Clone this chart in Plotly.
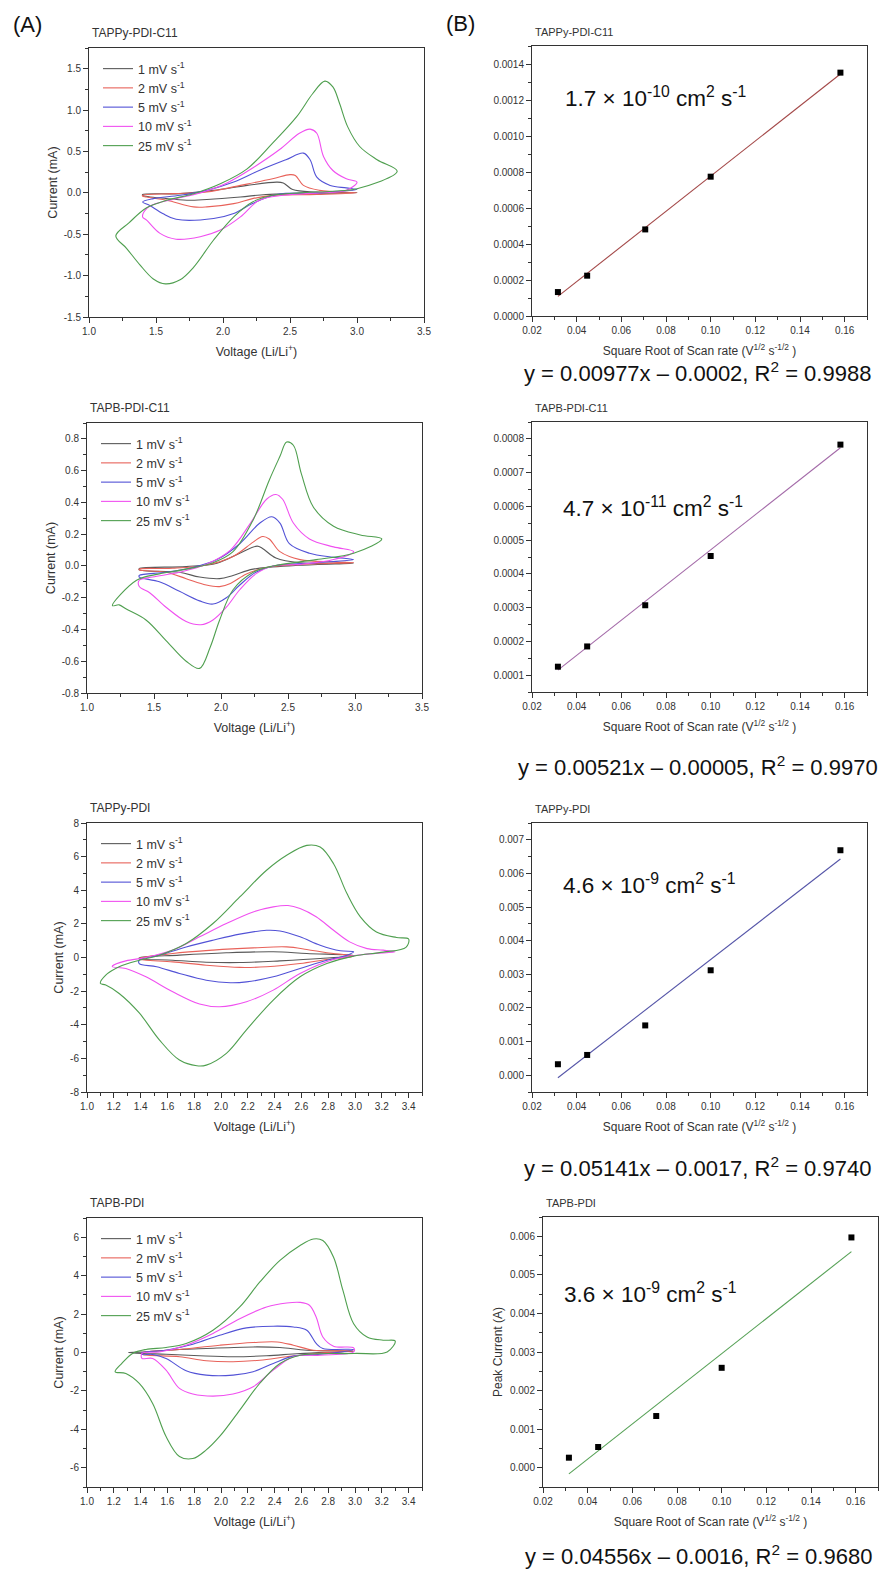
import plotly.graph_objects as go

# ---------------- data ----------------
rate_names = ["1 mV s<sup>-1</sup>", "2 mV s<sup>-1</sup>", "5 mV s<sup>-1</sup>",
              "10 mV s<sup>-1</sup>", "25 mV s<sup>-1</sup>"]
panel_titles = ["TAPPy-PDI-C11", "TAPB-PDI-C11", "TAPPy-PDI", "TAPB-PDI"]

# Panel 1: TAPPy-PDI-C11 CV (V, mA)
p1_v01 = [3.00, 2.57, 2.32, 2.13, 1.88, 1.73, 1.58, 1.40, 1.40, 1.68, 1.93, 2.18, 2.40, 2.45, 2.52, 2.70, 3.00]
p1_i01 = [0.00, -0.01, -0.02, -0.05, -0.08, -0.09, -0.07, -0.03, -0.02, -0.01, 0.03, 0.09, 0.13, 0.12, 0.04, 0.01, 0.00]
p1_v02 = [3.00, 2.70, 2.37, 2.22, 2.08, 1.88, 1.78, 1.58, 1.43, 1.40, 1.40, 1.63, 1.88, 2.13, 2.37, 2.50, 2.54, 2.60, 2.72, 3.00]
p1_i02 = [0.00, -0.02, -0.03, -0.07, -0.13, -0.17, -0.17, -0.09, -0.05, -0.04, -0.03, -0.01, 0.01, 0.09, 0.17, 0.22, 0.21, 0.09, 0.03, 0.00]
p1_v05 = [3.00, 2.70, 2.40, 2.22, 2.08, 1.93, 1.65, 1.55, 1.45, 1.40, 1.48, 1.68, 1.88, 2.08, 2.27, 2.47, 2.60, 2.65, 2.70, 2.80, 2.92, 3.00]
p1_i05 = [0.04, 0.00, -0.02, -0.13, -0.25, -0.31, -0.32, -0.25, -0.15, -0.11, -0.07, -0.03, 0.03, 0.13, 0.27, 0.40, 0.48, 0.40, 0.19, 0.09, 0.06, 0.04]
p1_v10 = [3.00, 2.92, 2.72, 2.45, 2.27, 2.13, 1.98, 1.83, 1.65, 1.53, 1.43, 1.40, 1.43, 1.50, 1.65, 1.83, 2.03, 2.23, 2.42, 2.57, 2.65, 2.70, 2.75, 2.82, 2.92, 3.00]
p1_i10 = [0.13, 0.03, 0.00, -0.03, -0.09, -0.29, -0.45, -0.53, -0.56, -0.49, -0.33, -0.29, -0.19, -0.13, -0.07, 0.00, 0.12, 0.31, 0.52, 0.72, 0.77, 0.72, 0.44, 0.27, 0.17, 0.13]
p1_v25 = [3.30, 3.00, 2.82, 2.57, 2.37, 2.22, 2.08, 1.93, 1.78, 1.68, 1.57, 1.48, 1.38, 1.28, 1.20, 1.30, 1.43, 1.58, 1.78, 1.98, 2.18, 2.37, 2.55, 2.67, 2.76, 2.82, 2.87, 2.93, 3.02, 3.15, 3.30]
p1_i25 = [0.26, 0.05, 0.02, 0.00, -0.03, -0.11, -0.29, -0.57, -0.90, -1.05, -1.10, -1.04, -0.87, -0.67, -0.52, -0.36, -0.18, -0.09, -0.01, 0.11, 0.29, 0.60, 0.92, 1.20, 1.35, 1.28, 1.08, 0.80, 0.56, 0.40, 0.26]

# Panel 2: TAPB-PDI-C11 CV
p2_v01 = [2.99, 2.59, 2.24, 2.09, 1.99, 1.84, 1.69, 1.39, 1.39, 1.74, 1.97, 2.14, 2.27, 2.31, 2.41, 2.59, 2.99]
p2_i01 = [0.017, 0.004, -0.02, -0.06, -0.08, -0.07, -0.04, -0.025, -0.017, -0.004, 0.017, 0.08, 0.125, 0.11, 0.05, 0.02, 0.017]
p2_v02 = [2.99, 2.59, 2.34, 2.19, 2.07, 1.99, 1.89, 1.74, 1.59, 1.39, 1.39, 1.64, 1.89, 2.09, 2.24, 2.31, 2.36, 2.44, 2.59, 2.84, 2.99]
p2_i02 = [0.02, 0.01, -0.01, -0.05, -0.11, -0.13, -0.12, -0.08, -0.04, -0.025, -0.02, -0.015, 0.006, 0.06, 0.15, 0.185, 0.17, 0.09, 0.04, 0.025, 0.02]
p2_v05 = [2.99, 2.71, 2.39, 2.26, 2.14, 2.04, 1.94, 1.84, 1.69, 1.54, 1.39, 1.39, 1.59, 1.79, 1.97, 2.14, 2.29, 2.38, 2.44, 2.51, 2.66, 2.84, 2.99]
p2_i05 = [0.04, 0.02, 0.00, -0.04, -0.12, -0.20, -0.24, -0.22, -0.16, -0.10, -0.07, -0.06, -0.04, -0.01, 0.04, 0.14, 0.27, 0.31, 0.27, 0.14, 0.08, 0.055, 0.04]
p2_v10 = [2.99, 2.84, 2.59, 2.39, 2.26, 2.14, 2.04, 1.94, 1.85, 1.74, 1.59, 1.47, 1.39, 1.39, 1.49, 1.69, 1.89, 2.07, 2.22, 2.34, 2.41, 2.46, 2.54, 2.66, 2.84, 2.99]
p2_i10 = [0.09, 0.04, 0.01, 0.00, -0.05, -0.15, -0.26, -0.34, -0.37, -0.35, -0.26, -0.17, -0.13, -0.09, -0.07, -0.04, 0.01, 0.10, 0.27, 0.42, 0.45, 0.42, 0.27, 0.17, 0.12, 0.09]
p2_v25 = [3.20, 2.99, 2.71, 2.39, 2.24, 2.09, 1.99, 1.92, 1.84, 1.74, 1.59, 1.44, 1.29, 1.24, 1.19, 1.37, 1.54, 1.74, 1.94, 2.09, 2.24, 2.36, 2.44, 2.49, 2.54, 2.60, 2.69, 2.84, 3.04, 3.20]
p2_i25 = [0.17, 0.08, 0.04, 0.00, -0.04, -0.15, -0.34, -0.51, -0.645, -0.60, -0.47, -0.34, -0.27, -0.245, -0.25, -0.09, -0.05, -0.02, 0.02, 0.09, 0.29, 0.54, 0.69, 0.78, 0.76, 0.58, 0.37, 0.25, 0.195, 0.17]

# Panel 3: TAPPy-PDI CV
p3_v01 = [2.99, 2.74, 2.44, 2.14, 1.89, 1.64, 1.39, 1.39, 1.69, 2.04, 2.39, 2.64, 2.99]
p3_i01 = [0.12, -0.06, -0.20, -0.30, -0.28, -0.16, -0.06, -0.02, 0.14, 0.28, 0.34, 0.24, 0.12]
p3_v02 = [2.99, 2.79, 2.59, 2.34, 2.14, 1.89, 1.64, 1.39, 1.39, 1.64, 1.94, 2.24, 2.49, 2.64, 2.79, 2.99]
p3_i02 = [0.08, -0.12, -0.36, -0.55, -0.59, -0.46, -0.26, -0.10, -0.06, 0.24, 0.44, 0.57, 0.63, 0.48, 0.28, 0.08]
p3_v05 = [2.99, 2.94, 2.79, 2.59, 2.39, 2.19, 2.07, 1.89, 1.69, 1.52, 1.39, 1.39, 1.54, 1.74, 1.94, 2.14, 2.34, 2.44, 2.59, 2.74, 2.89, 2.99]
p3_i05 = [0.34, 0.14, -0.16, -0.65, -1.15, -1.45, -1.50, -1.35, -0.95, -0.55, -0.36, -0.16, 0.14, 0.63, 1.03, 1.39, 1.62, 1.58, 1.23, 0.73, 0.40, 0.34]
p3_v10 = [3.30, 3.09, 2.84, 2.59, 2.39, 2.19, 1.99, 1.84, 1.64, 1.44, 1.29, 1.19, 1.19, 1.29, 1.44, 1.64, 1.84, 2.04, 2.24, 2.39, 2.50, 2.59, 2.71, 2.84, 2.96, 3.09, 3.21, 3.30]
p3_i10 = [0.34, 0.20, -0.12, -0.95, -1.94, -2.63, -2.93, -2.77, -2.04, -1.15, -0.65, -0.55, -0.50, -0.20, 0.00, 0.44, 1.23, 2.02, 2.71, 3.01, 3.09, 2.91, 2.42, 1.62, 0.93, 0.53, 0.44, 0.34]
p3_v25 = [3.40, 3.38, 3.21, 2.99, 2.79, 2.59, 2.39, 2.19, 2.04, 1.89, 1.82, 1.69, 1.54, 1.39, 1.24, 1.14, 1.10, 1.14, 1.24, 1.39, 1.54, 1.74, 1.94, 2.14, 2.34, 2.49, 2.64, 2.74, 2.84, 2.94, 3.04, 3.16, 3.31, 3.40]
p3_i25 = [1.10, 0.60, 0.32, 0.08, -0.36, -1.15, -2.53, -4.30, -5.70, -6.40, -6.44, -6.10, -4.90, -3.30, -2.14, -1.64, -1.54, -1.05, -0.55, -0.16, 0.14, 0.83, 2.02, 3.60, 5.19, 6.08, 6.67, 6.57, 5.58, 3.80, 2.42, 1.52, 1.19, 1.10]

# Panel 4: TAPB-PDI CV
p4_v01 = [2.99, 2.59, 2.34, 2.09, 1.84, 1.59, 1.41, 1.31, 1.41, 1.59, 1.89, 2.24, 2.44, 2.64, 2.99]
p4_i01 = [0.07, -0.05, -0.17, -0.22, -0.17, -0.09, -0.05, 0.00, 0.02, 0.12, 0.21, 0.29, 0.26, 0.12, 0.07]
p4_v02 = [2.99, 2.71, 2.49, 2.29, 2.09, 1.89, 1.69, 1.41, 1.41, 1.69, 1.99, 2.24, 2.42, 2.54, 2.69, 2.99]
p4_i02 = [0.09, -0.05, -0.22, -0.40, -0.48, -0.43, -0.22, -0.09, -0.02, 0.16, 0.38, 0.52, 0.55, 0.38, 0.12, 0.09]
p4_v05 = [2.99, 2.74, 2.54, 2.39, 2.24, 2.09, 1.89, 1.74, 1.59, 1.49, 1.41, 1.41, 1.59, 1.79, 1.99, 2.19, 2.39, 2.54, 2.64, 2.71, 2.76, 2.99]
p4_i05 = [0.16, -0.09, -0.19, -0.57, -1.00, -1.18, -1.18, -0.95, -0.31, -0.10, -0.10, -0.02, 0.12, 0.43, 0.90, 1.28, 1.37, 1.33, 1.16, 0.47, 0.21, 0.16]
p4_v10 = [2.99, 2.99, 2.74, 2.54, 2.39, 2.24, 2.09, 1.94, 1.79, 1.69, 1.59, 1.49, 1.41, 1.41, 1.54, 1.74, 1.94, 2.14, 2.34, 2.49, 2.59, 2.66, 2.71, 2.76, 2.84, 2.99]
p4_i10 = [0.24, 0.03, -0.14, -0.22, -0.92, -1.78, -2.16, -2.27, -2.16, -1.87, -0.92, -0.31, -0.31, -0.05, 0.03, 0.38, 0.99, 1.76, 2.37, 2.58, 2.61, 2.46, 1.85, 0.81, 0.33, 0.24]
p4_v25 = [3.30, 3.24, 2.99, 2.59, 2.44, 2.29, 2.14, 1.99, 1.89, 1.79, 1.69, 1.59, 1.49, 1.39, 1.29, 1.21, 1.26, 1.34, 1.44, 1.59, 1.74, 1.94, 2.14, 2.29, 2.44, 2.59, 2.69, 2.76, 2.84, 2.91, 2.99, 3.09, 3.21, 3.30]
p4_i25 = [0.60, 0.03, -0.05, -0.14, -0.57, -1.60, -3.00, -4.37, -5.07, -5.52, -5.41, -4.37, -2.65, -1.61, -1.09, -1.00, -0.57, -0.05, 0.16, 0.26, 0.47, 1.16, 2.37, 3.67, 4.79, 5.57, 5.91, 5.83, 4.96, 3.23, 1.50, 0.81, 0.64, 0.60]

# Right column: peak current vs square root of scan rate
sqrt_rate = [0.0316, 0.0447, 0.0707, 0.1000, 0.1581]
p1_peak = [0.000133, 0.000224, 0.000481, 0.000774, 0.001352]
p2_peak = [0.000125, 0.000185, 0.000307, 0.000453, 0.000783]
p3_peak = [0.000326, 0.000602, 0.00148, 0.00312, 0.00669]
p4_peak = [0.00026, 0.000537, 0.00134, 0.00259, 0.00597]
fit_slope = [0.00977, 0.00521, 0.05141, 0.04556]
fit_intercept = [-0.0002, -0.00005, -0.0017, -0.0016]
diff_labels = ["1.7 \u00d7 10<sup>-10</sup> cm<sup>2</sup> s<sup>-1</sup>",
               "4.7 \u00d7 10<sup>-11</sup> cm<sup>2</sup> s<sup>-1</sup>",
               "4.6 \u00d7 10<sup>-9</sup> cm<sup>2</sup> s<sup>-1</sup>",
               "3.6 \u00d7 10<sup>-9</sup> cm<sup>2</sup> s<sup>-1</sup>"]
eq_labels = ["y = 0.00977x \u2013 0.0002, R<sup>2</sup> = 0.9988",
             "y = 0.00521x \u2013 0.00005, R<sup>2</sup> = 0.9970",
             "y = 0.05141x \u2013 0.0017, R<sup>2</sup> = 0.9740",
             "y = 0.04556x \u2013 0.0016, R<sup>2</sup> = 0.9680"]

# tick labels
p1_yticks = [-1.5, -1.0, -0.5, 0.0, 0.5, 1.0, 1.5]
p1_ylabels = ["-1.5", "-1.0", "-0.5", "0.0", "0.5", "1.0", "1.5"]
p2_yticks = [-0.8, -0.6, -0.4, -0.2, 0.0, 0.2, 0.4, 0.6, 0.8]
p2_ylabels = ["-0.8", "-0.6", "-0.4", "-0.2", "0.0", "0.2", "0.4", "0.6", "0.8"]
p3_yticks = [-8, -6, -4, -2, 0, 2, 4, 6, 8]
p3_ylabels = ["-8", "-6", "-4", "-2", "0", "2", "4", "6", "8"]
p4_yticks = [-6, -4, -2, 0, 2, 4, 6]
p4_ylabels = ["-6", "-4", "-2", "0", "2", "4", "6"]

# ---------------- styling / layout ----------------
W, H = 889, 1570
FONT = "Arial, 'Liberation Sans', sans-serif"
TXT = "#333333"
cv_colors = ["#595959", "#e8625a", "#5252d6", "#f050f0", "#4f9f4f"]
fit_colors = ["#a34848", "#a36aa8", "#5656a8", "#55a055"]

def X(px):
    return px / W

def Y(py):
    return 1 - py / H

# pixel boxes (left, right, top, bottom)
left_boxes = [(89, 424, 48, 317), (87, 422, 423, 693), (87, 422, 823, 1092), (87, 422, 1218, 1487)]
right_boxes = [(532, 867, 46, 316), (532, 867, 422, 692), (532, 867, 823, 1092), (543, 878, 1217, 1487)]

cv_data = [
    [(p1_v01, p1_i01), (p1_v02, p1_i02), (p1_v05, p1_i05), (p1_v10, p1_i10), (p1_v25, p1_i25)],
    [(p2_v01, p2_i01), (p2_v02, p2_i02), (p2_v05, p2_i05), (p2_v10, p2_i10), (p2_v25, p2_i25)],
    [(p3_v01, p3_i01), (p3_v02, p3_i02), (p3_v05, p3_i05), (p3_v10, p3_i10), (p3_v25, p3_i25)],
    [(p4_v01, p4_i01), (p4_v02, p4_i02), (p4_v05, p4_i05), (p4_v10, p4_i10), (p4_v25, p4_i25)],
]
peaks = [p1_peak, p2_peak, p3_peak, p4_peak]
left_y = [
    dict(range=[-1.5, 1.75], tickvals=p1_yticks, ticktext=p1_ylabels, minor=0.25),
    dict(range=[-0.8, 0.9], tickvals=p2_yticks, ticktext=p2_ylabels, minor=0.1),
    dict(range=[-8, 8], tickvals=p3_yticks, ticktext=p3_ylabels, minor=1),
    dict(range=[-7, 7], tickvals=p4_yticks, ticktext=p4_ylabels, minor=1),
]
left_x = [dict(dtick=0.5, minor=0.25), dict(dtick=0.5, minor=0.25),
          dict(dtick=0.2, minor=0.1), dict(dtick=0.2, minor=0.1)]
right_y = [
    dict(range=[0, 0.0015], dtick=0.0002, minor=0.0001, fmt=".4f"),
    dict(range=[0.00005, 0.00085], dtick=0.0001, minor=0.00005, fmt=".4f"),
    dict(range=[-0.0005, 0.0075], dtick=0.001, minor=0.0005, fmt=".3f"),
    dict(range=[-0.0005, 0.0065], dtick=0.001, minor=0.0005, fmt=".3f"),
]
legend_top = [54, 429, 829, 1224]
legend_left = [98, 96, 96, 96]

fig = go.Figure()
layout = dict(width=W, height=H, margin=dict(l=0, r=0, t=0, b=0, pad=0, autoexpand=False),
              paper_bgcolor="white", plot_bgcolor="white",
              font=dict(family=FONT, color=TXT, size=10), showlegend=True)
annotations = []

def axis_common():
    return dict(showgrid=False, zeroline=False, showline=True, linecolor="#333333",
                linewidth=1, mirror=True, ticks="outside", ticklen=5, tickwidth=1,
                tickcolor="#333333", automargin=False,
                tickfont=dict(size=10, color=TXT, family=FONT))

for k in range(4):
    # ---- left CV panel ----
    xi = 2 * k + 1
    xn = "x" if xi == 1 else f"x{xi}"
    yn = "y" if xi == 1 else f"y{xi}"
    leg = "legend" if k == 0 else f"legend{k + 1}"
    for r in range(5):
        v, i = cv_data[k][r]
        fig.add_trace(go.Scatter(x=v, y=i, mode="lines", name=rate_names[r],
                                 line=dict(color=cv_colors[r], width=1.1, shape="spline", smoothing=1.0),
                                 xaxis=xn, yaxis=yn, legend=leg, showlegend=True))
    l, rr, t, b = left_boxes[k]
    xa = axis_common()
    xa.update(domain=[X(l), X(rr)], range=[1.0, 3.5], dtick=left_x[k]["dtick"], tick0=1.0,
              tickformat=".1f", anchor=yn,
              minor=dict(dtick=left_x[k]["minor"], tick0=1.0, ticks="outside", ticklen=3, tickcolor="#333333"),
              title=dict(text="Voltage (Li/Li<sup>+</sup>)", font=dict(size=12.5, color=TXT, family=FONT),
                         standoff=11))
    ya = axis_common()
    ya.update(domain=[Y(b), Y(t)], range=left_y[k]["range"], tickvals=left_y[k]["tickvals"],
              ticktext=left_y[k]["ticktext"], anchor=xn,
              minor=dict(dtick=left_y[k]["minor"], ticks="outside", ticklen=3, tickcolor="#333333"),
              title=dict(text="Current (mA)", font=dict(size=12.5, color=TXT, family=FONT), standoff=3))
    layout["xaxis" if xi == 1 else f"xaxis{xi}"] = xa
    layout["yaxis" if xi == 1 else f"yaxis{xi}"] = ya
    layout[leg] = dict(x=X(legend_left[k]), y=Y(legend_top[k]), xanchor="left", yanchor="top",
                       bgcolor="rgba(0,0,0,0)", borderwidth=0,
                       font=dict(size=12.5, color=TXT, family=FONT), tracegroupgap=0)
    annotations.append(dict(text=panel_titles[k], x=X(l + 1), y=Y(t - 15), xref="paper", yref="paper",
                            xanchor="left", yanchor="middle", showarrow=False,
                            font=dict(size=12, color=TXT, family=FONT)))

    # ---- right fit panel ----
    xj = 2 * k + 2
    xn2 = f"x{xj}"
    yn2 = f"y{xj}"
    fx = [min(sqrt_rate), max(sqrt_rate)]
    fy = [fit_slope[k] * xx + fit_intercept[k] for xx in fx]
    fig.add_trace(go.Scatter(x=fx, y=fy, mode="lines", line=dict(color=fit_colors[k], width=1.1),
                             xaxis=xn2, yaxis=yn2, showlegend=False))
    fig.add_trace(go.Scatter(x=sqrt_rate, y=peaks[k], mode="markers",
                             marker=dict(symbol="square", size=6, color="black"),
                             xaxis=xn2, yaxis=yn2, showlegend=False))
    l2, r2, t2, b2 = right_boxes[k]
    xa2 = axis_common()
    xa2.update(domain=[X(l2), X(r2)], range=[0.02, 0.17], dtick=0.02, tick0=0.02, tickformat=".2f",
               anchor=yn2,
               minor=dict(dtick=0.01, tick0=0.02, ticks="outside", ticklen=3, tickcolor="#333333"),
               title=dict(text="Square Root of Scan rate (V<sup>1/2</sup> s<sup>-1/2</sup> )",
                          font=dict(size=12, color=TXT, family=FONT), standoff=11))
    ya2 = axis_common()
    ry = right_y[k]
    ya2.update(domain=[Y(b2), Y(t2)], range=ry["range"], dtick=ry["dtick"], tick0=0, tickformat=ry["fmt"],
               anchor=xn2,
               minor=dict(dtick=ry["minor"], tick0=0, ticks="outside", ticklen=3, tickcolor="#333333"))
    if k == 3:
        ya2.update(title=dict(text="Peak Current (A)", font=dict(size=12, color=TXT, family=FONT), standoff=4))
    layout[f"xaxis{xj}"] = xa2
    layout[f"yaxis{xj}"] = ya2
    annotations.append(dict(text=panel_titles[k], x=X(l2 + 1), y=Y(t2 - 14), xref="paper", yref="paper",
                            xanchor="left", yanchor="middle", showarrow=False,
                            font=dict(size=11, color=TXT, family=FONT)))

diff_pos = [(563, 97), (561, 507), (561, 884), (562, 1293)]
eq_pos = [(697, 372), (698, 766), (697, 1167), (698, 1555)]
for k in range(4):
    annotations.append(dict(text=diff_labels[k], x=X(diff_pos[k][0]), y=Y(diff_pos[k][1]), xref="paper",
                            yref="paper", xanchor="left", yanchor="middle", showarrow=False,
                            font=dict(size=22.5, color="#111111", family=FONT)))
    annotations.append(dict(text=eq_labels[k], x=X(eq_pos[k][0]), y=Y(eq_pos[k][1]), xref="paper",
                            yref="paper", xanchor="center", yanchor="middle", showarrow=False,
                            font=dict(size=22, color="#111111", family=FONT)))

annotations.append(dict(text="(A)", x=X(11), y=Y(25), xref="paper", yref="paper", xanchor="left",
                        yanchor="middle", showarrow=False, font=dict(size=22, color="#111111", family=FONT)))
annotations.append(dict(text="(B)", x=X(444), y=Y(24), xref="paper", yref="paper", xanchor="left",
                        yanchor="middle", showarrow=False, font=dict(size=22, color="#111111", family=FONT)))

layout["annotations"] = annotations
fig.update_layout(**layout)
fig.write_html("out.html", config={"displayModeBar": False},
               post_script="document.body.style.margin='0px';")
